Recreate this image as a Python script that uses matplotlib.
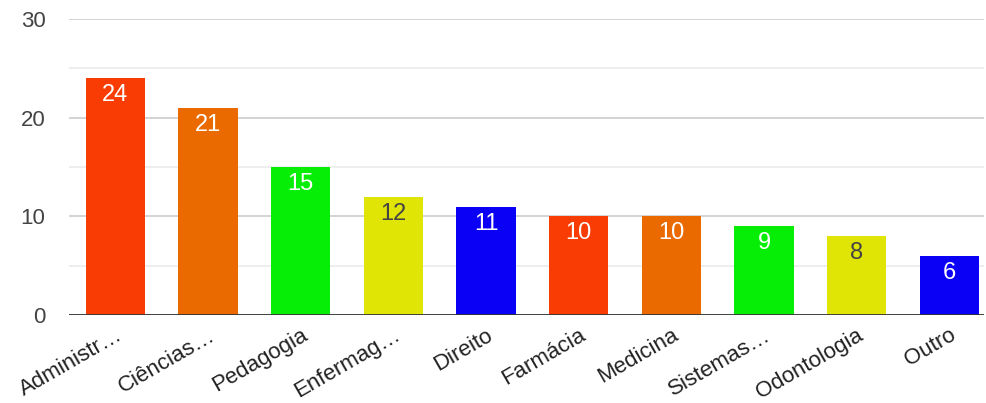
import matplotlib.pyplot as plt
import numpy as np

plt.rcParams['font.family'] = ['Liberation Sans', 'DejaVu Sans']

cursos = ['Administr…', 'Ciências…', 'Pedagogia', 'Enfermag…', 'Direito',
          'Farmácia', 'Medicina', 'Sistemas…', 'Odontologia', 'Outro']
valores = [24, 21, 15, 12, 11, 10, 10, 9, 8, 6]
cores = ['#f93c04', '#ea6a00', '#06ee06', '#e1e505', '#0a00f5',
         '#f93c04', '#ea6a00', '#06ee06', '#e1e505', '#0a00f5']

fig = plt.figure(figsize=(9.86, 4.03), dpi=100)
ax = fig.add_axes([0.07, 0.218, 0.928, 0.7345])

x = np.arange(len(cursos))
bars = ax.bar(x, valores, width=0.64, color=cores, zorder=3)

for b, v, c in zip(bars, valores, cores):
    txt_color = '#444444' if c == '#e1e505' else 'white'
    ax.text(b.get_x() + b.get_width() / 2, v - 0.6, str(v), ha='center', va='top',
            fontsize=17, color=txt_color, zorder=4)

ax.set_xlim(-0.5, 9.374)
ax.set_ylim(0, 30)
ax.set_yticks([0, 10, 20, 30])
ax.set_yticks([5, 15, 25], minor=True)
ax.grid(axis='y', which='major', color='#cccccc', linewidth=1.2, zorder=0)
ax.grid(axis='y', which='minor', color='#ebebeb', linewidth=1.2, zorder=0)
ax.axhline(0, color='#333333', linewidth=2, zorder=5)

ax.set_xticks(x)
ax.set_xticklabels(cursos, rotation=30, ha='right', rotation_mode='anchor',
                   fontsize=16, color='#222222')
ax.tick_params(axis='y', which='both', length=0, labelsize=16, labelcolor='#444444', pad=17)
ax.tick_params(axis='x', length=0, pad=7)
for s in ax.spines.values():
    s.set_visible(False)

fig.savefig('out.png', dpi=100)
